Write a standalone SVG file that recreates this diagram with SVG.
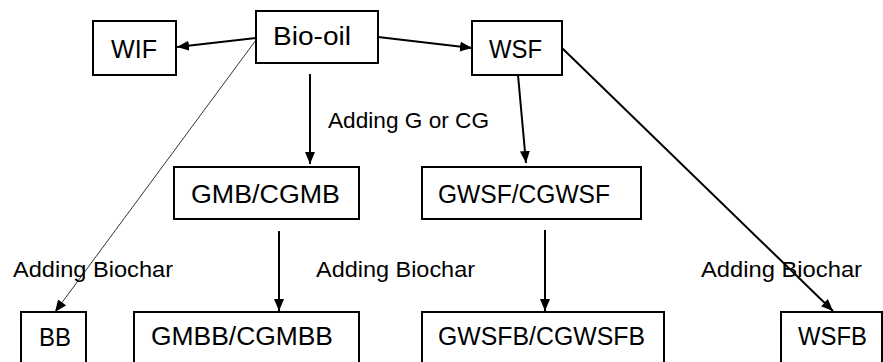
<svg xmlns="http://www.w3.org/2000/svg" width="883" height="362" viewBox="0 0 883 362">
<style>
.box{fill:#fff;stroke:#000;stroke-width:2}
.t{font-family:"Liberation Sans",Arial,sans-serif;font-size:25px;fill:#000}
.l{font-family:"Liberation Sans",Arial,sans-serif;font-size:22px;fill:#000}
.c{stroke:#000;stroke-width:2;fill:none;marker-end:url(#ah)}
.thin{stroke:#333;stroke-width:1;fill:none;marker-end:url(#ah)}
</style>
<defs>
<marker id="ah" markerUnits="userSpaceOnUse" markerWidth="14" markerHeight="12" refX="12" refY="5" orient="auto">
<path d="M0,0 L12,5 L0,10 Z" fill="#000"/>
</marker>
</defs>
<rect width="883" height="362" fill="#fff"/>
<g id="connectors">
<line class="c" x1="256" y1="38" x2="177" y2="47"/>
<line class="c" x1="378" y1="37" x2="472" y2="48"/>
<line class="c" x1="310" y1="74" x2="310" y2="164"/>
<line class="thin" x1="256" y1="40" x2="55" y2="312"/>
<line class="c" x1="518" y1="75" x2="526" y2="163"/>
<line class="c" x1="562" y1="48" x2="833" y2="311"/>
<line class="c" x1="279" y1="231" x2="279" y2="311"/>
<line class="c" x1="545" y1="230" x2="545" y2="311"/>
</g>
<g id="labels">
<text class="l" x="328" y="128" textLength="161" lengthAdjust="spacingAndGlyphs">Adding G or CG</text>
<text class="l" x="13" y="277" textLength="160" lengthAdjust="spacingAndGlyphs">Adding Biochar</text>
<text class="l" x="316" y="277" textLength="159" lengthAdjust="spacingAndGlyphs">Adding Biochar</text>
<text class="l" x="701" y="277" textLength="161" lengthAdjust="spacingAndGlyphs">Adding Biochar</text>
</g>
<g id="bio-oil"><rect class="box" x="256" y="11" width="122" height="52"/><text class="t" x="273" y="45" textLength="78" lengthAdjust="spacingAndGlyphs">Bio-oil</text></g>
<g id="wif"><rect class="box" x="93" y="21" width="83" height="54"/><text class="t" x="111" y="58" textLength="46" lengthAdjust="spacingAndGlyphs">WIF</text></g>
<g id="wsf"><rect class="box" x="472" y="21" width="90" height="54"/><text class="t" x="489" y="58" textLength="53" lengthAdjust="spacingAndGlyphs">WSF</text></g>
<g id="gmb"><rect class="box" x="174" y="167" width="185" height="52"/><text class="t" x="191" y="203" textLength="149" lengthAdjust="spacingAndGlyphs">GMB/CGMB</text></g>
<g id="gwsf"><rect class="box" x="422" y="167" width="219" height="52"/><text class="t" x="438" y="203" textLength="172" lengthAdjust="spacingAndGlyphs">GWSF/CGWSF</text></g>
<g id="bb"><rect class="box" x="21" y="312" width="65" height="60"/><text class="t" x="39" y="346" textLength="32" lengthAdjust="spacingAndGlyphs">BB</text></g>
<g id="gmbb"><rect class="box" x="134" y="312" width="225" height="60"/><text class="t" x="151" y="345" textLength="182" lengthAdjust="spacingAndGlyphs">GMBB/CGMBB</text></g>
<g id="gwsfb"><rect class="box" x="422" y="312" width="242" height="60"/><text class="t" x="438" y="345" textLength="207" lengthAdjust="spacingAndGlyphs">GWSFB/CGWSFB</text></g>
<g id="wsfb"><rect class="box" x="781" y="312" width="101" height="60"/><text class="t" x="798" y="345" textLength="69" lengthAdjust="spacingAndGlyphs">WSFB</text></g>
</svg>
